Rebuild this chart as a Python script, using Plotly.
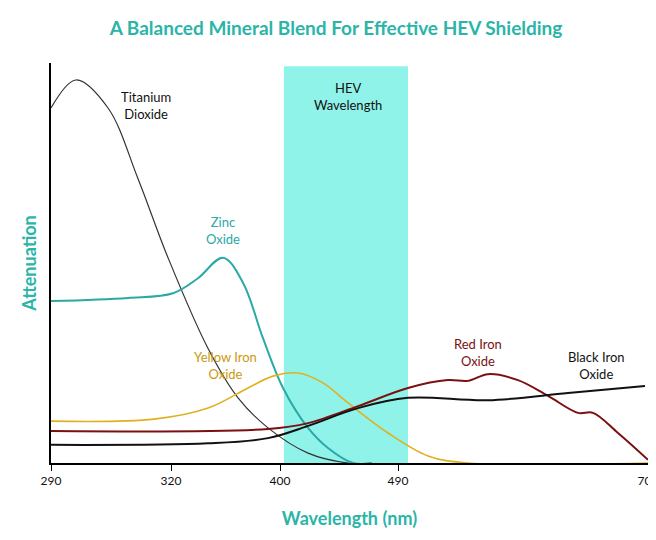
import plotly.graph_objects as go
import numpy as np

tick_wl = [290, 320, 400, 490, 700]
tick_pos = [0, 120, 229, 347, 597]  # non-uniform axis spacing as drawn

def pos(wl):
    return np.interp(wl, tick_wl, tick_pos)

tio2_x = [290, 296.25, 304.25, 311.75, 319.25, 347.2, 369.2, 391.2, 421.4, 451.9, 470]
tio2_y = [89.9, 97, 89.9, 72, 52, 29, 16.5, 8.9, 2.5, 0, 0]
zinc_x = [290, 309.25, 321.5, 339.8, 358.2, 372.9, 387.5, 402.3, 421.4, 436.6, 455.7, 470]
zinc_y = [41, 41.8, 43, 46.8, 52, 45.6, 31.6, 19, 8.9, 3.8, 0, 0]
yel_x = [290, 315.75, 347.2, 376.5, 394.9, 413.7, 432.8, 451.9, 482.4, 515.2, 548.8, 700]
yel_y = [10.6, 11.1, 13.9, 19, 22, 22.8, 20.3, 15.2, 7.6, 1.8, 0, 0]
red_x = [290, 391.2, 421.4, 459.5, 498.4, 532, 548.8, 565.6, 590.8, 616, 641.2, 653.8, 674.8, 700]
red_y = [8.1, 8.6, 10.1, 14.4, 19, 21, 20.8, 22.5, 21, 17, 12.7, 12.7, 7.6, 0.8]
blk_x = [290, 347.2, 391.2, 421.4, 459.5, 498.4, 565.6, 632.8, 697.5]
blk_y = [4.6, 5, 6.3, 9.4, 13.9, 16.5, 15.9, 17.7, 19.5]
hev_band = [403, 498.4]

fig = go.Figure()
fig.add_shape(type="rect", x0=pos(hev_band[0]), x1=pos(hev_band[1]), y0=0, y1=100.5,
              fillcolor="#8ff3ea", line_width=0, layer="below")
series = [(tio2_x, tio2_y, "#333333", 1.2), (zinc_x, zinc_y, "#2aa9a5", 2),
          (yel_x, yel_y, "#e0b020", 1.6), (red_x, red_y, "#7a1010", 2),
          (blk_x, blk_y, "#111111", 2)]
for xs, ys, c, w in series:
    fig.add_trace(go.Scatter(x=pos(xs), y=ys, mode="lines", line=dict(color=c, width=w, shape="spline"),
                             showlegend=False, hoverinfo="skip"))

labels = [(313.75, 90.6, "Titanium<br>Dioxide", "#111"), (358.2, 59, "Zinc<br>Oxide", "#2aa9a5"),
          (359.7, 24.6, "Yellow Iron<br>Oxide", "#c89a10"), (557.2, 28.1, "Red Iron<br>Oxide", "#7a1010"),
          (657.1, 24.6, "Black Iron<br>Oxide", "#111"), (451.9, 92.9, "HEV<br>Wavelength", "#111")]
for x, y, t, c in labels:
    fig.add_annotation(x=pos(x), y=y, text=t, showarrow=False, font=dict(size=13, color=c, family="Lato"))

fig.update_layout(
    width=656, height=540, margin=dict(l=43, r=16, t=55, b=85),
    plot_bgcolor="white", paper_bgcolor="white",
    title=dict(text="<b>A Balanced Mineral Blend For Effective HEV Shielding</b>", x=0.5, y=0.975,
               xanchor="center", font=dict(size=19, color="#2ab5a8", family="Lato")),
    xaxis=dict(range=[0, 597], tickvals=tick_pos, ticktext=[str(v) for v in tick_wl], automargin=False,
               showgrid=False, zeroline=False, showline=True, linecolor="black", linewidth=1.5,
               ticks="outside", ticklen=6, tickcolor="black", tickfont=dict(size=12, color="#111", family="Lato"),
               title=dict(text="<b>Wavelength (nm)</b>", font=dict(size=18, color="#2ab5a8", family="Lato"), standoff=25)),
    yaxis=dict(range=[0, 101.3], showticklabels=False, showgrid=False, zeroline=False, automargin=False,
               showline=True, linecolor="black", linewidth=1.5, ticks="",
               title=dict(text="<b>Attenuation</b>", font=dict(size=18, color="#2ab5a8", family="Lato"), standoff=8)),
)
fig.write_html("out.html")
